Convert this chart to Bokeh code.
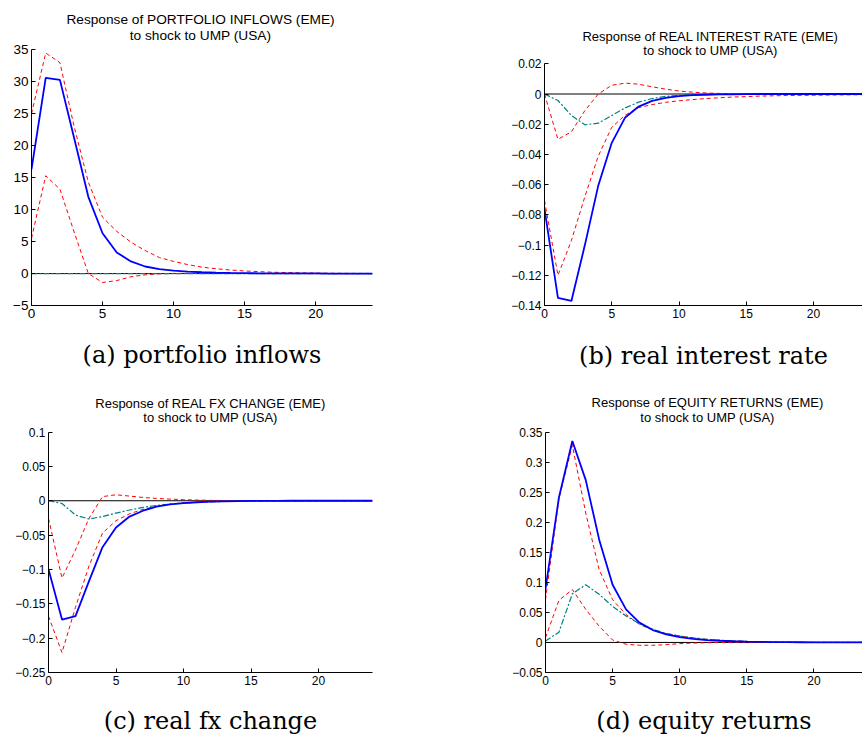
from bokeh.plotting import figure
from bokeh.models import (Range1d, FixedTicker, CustomJSTickFormatter, Span, Label,
                          ColumnDataSource, LinearAxis)
from bokeh.layouts import column, row
from bokeh.embed import file_html
from bokeh.resources import INLINE

# ---------------- data ----------------
horizon = list(range(25))

# (a) portfolio inflows
pi_resp = [16.3, 30.6, 30.3, 21.2, 12.0, 6.3, 3.3, 1.9, 1.1, 0.7, 0.45, 0.3, 0.2, 0.13, 0.09,
           0.06, 0.04, 0.03, 0.02, 0.01, 0.01, 0.0, 0.0, 0.0, 0.0]
pi_upper = [25.0, 34.5, 33.0, 23.0, 14.3, 8.8, 6.6, 4.9, 3.6, 2.5, 1.9, 1.4, 1.0, 0.75, 0.55,
            0.4, 0.3, 0.2, 0.15, 0.1, 0.07, 0.05, 0.03, 0.02, 0.02]
pi_lower = [5.5, 15.3, 13.2, 6.5, 0.0, -1.4, -1.1, -0.5, -0.2, -0.05, 0.02, 0.03, 0.03, 0.02, 0.02,
            0.01, 0.01, 0.0, 0.0, 0.0, 0.0, 0.0, 0.0, 0.0, 0.0]
pi_median = [0.0] * 25

# (b) real interest rate
ri_resp = [-0.076, -0.135, -0.137, -0.100, -0.0605, -0.0323, -0.0155, -0.0083, -0.0045, -0.0025,
           -0.0014, -0.0008, -0.0005, -0.0003, -0.0002, -0.0001, 0.0, 0.0, 0.0, 0.0, 0.0, 0.0, 0.0, 0.0, 0.0]
ri_upper = [0.0, -0.030, -0.025, -0.011, 0.0, 0.0058, 0.0072, 0.0065, 0.0048, 0.0032, 0.002,
            0.0012, 0.0007, 0.0004, 0.0002, 0.0001, 0.0, 0.0, 0.0, 0.0, 0.0, 0.0, 0.0, 0.0, 0.0]
ri_lower = [-0.0705, -0.120, -0.097, -0.068, -0.041, -0.022, -0.014, -0.009, -0.007, -0.0055,
            -0.0045, -0.0037, -0.003, -0.0025, -0.002, -0.0017, -0.0014, -0.0012, -0.001, -0.0009,
            -0.0008, -0.0007, -0.0006, -0.0005, -0.0005]
ri_median = [0.0, -0.0043, -0.0142, -0.0204, -0.0193, -0.0142, -0.0092, -0.0054, -0.003, -0.0016,
             -0.0009, -0.0005, -0.0003, -0.0002, -0.0001, 0.0, 0.0, 0.0, 0.0, 0.0, 0.0, 0.0, 0.0, 0.0, 0.0]

# (c) real fx change
fx_resp = [-0.0995, -0.173, -0.168, -0.117, -0.0676, -0.039, -0.023, -0.0145, -0.0087, -0.0053,
           -0.0034, -0.0022, -0.0014, -0.0009, -0.0005, -0.0003, -0.0002, -0.0001, 0.0, 0.0, 0.0, 0.0, 0.0, 0.0, 0.0]
fx_upper = [-0.0256, -0.1125, -0.0715, -0.0256, 0.006, 0.0087, 0.0068, 0.0048, 0.0034, 0.0024,
            0.0016, 0.001, 0.0006, 0.0003, 0.0002, 0.0001, 0.0, 0.0, 0.0, 0.0, 0.0, 0.0, 0.0, 0.0, 0.0]
fx_lower = [-0.168, -0.221, -0.155, -0.095, -0.047, -0.029, -0.019, -0.0125, -0.008, -0.005,
            -0.003, -0.002, -0.0013, -0.0008, -0.0005, -0.0003, -0.0002, -0.0001, 0.0, 0.0, 0.0, 0.0, 0.0, 0.0, 0.0]
fx_median = [0.0, -0.004, -0.0208, -0.0266, -0.023, -0.018, -0.0135, -0.0097, -0.0068, -0.0048,
             -0.0034, -0.0023, -0.0015, -0.001, -0.0007, -0.0004, -0.0003, -0.0002, -0.0001, 0.0, 0.0, 0.0, 0.0, 0.0, 0.0]

# (d) equity returns
eq_resp = [0.089, 0.241, 0.335, 0.270, 0.171, 0.096, 0.055, 0.033, 0.0206, 0.0135, 0.009, 0.006,
           0.004, 0.0028, 0.002, 0.0013, 0.0009, 0.0006, 0.0004, 0.0003, 0.0002, 0.0001, 0.0001, 0.0, 0.0]
eq_upper = [0.071, 0.239, 0.328, 0.215, 0.121, 0.071, 0.0466, 0.030, 0.0206, 0.0146, 0.0107, 0.0075,
            0.0052, 0.0035, 0.0024, 0.0016, 0.0011, 0.0007, 0.0005, 0.0003, 0.0002, 0.0001, 0.0001, 0.0, 0.0]
eq_lower = [0.008, 0.070, 0.088, 0.055, 0.027, 0.004, -0.003, -0.0047, -0.0047, -0.0037, -0.002, -0.001,
            -0.0005, 0.0, 0.0, 0.0, 0.0, 0.0, 0.0, 0.0, 0.0, 0.0, 0.0, 0.0, 0.0]
eq_median = [0.0025, 0.017, 0.081, 0.096, 0.080, 0.060, 0.044, 0.031, 0.0217, 0.015, 0.0107, 0.0075,
             0.0052, 0.0036, 0.0025, 0.0017, 0.0012, 0.0008, 0.0005, 0.0003, 0.0002, 0.0001, 0.0001, 0.0, 0.0]

x_ticks = [0, 5, 10, 15, 20]
yticks_a = [-5, 0, 5, 10, 15, 20, 25, 30, 35]
yticks_b = [-0.14, -0.12, -0.1, -0.08, -0.06, -0.04, -0.02, 0, 0.02]
yticks_c = [-0.25, -0.2, -0.15, -0.1, -0.05, 0, 0.05, 0.1]
yticks_d = [-0.05, 0, 0.05, 0.1, 0.15, 0.2, 0.25, 0.3, 0.35]

title_lines = [("Response of PORTFOLIO INFLOWS (EME)", "to shock to UMP (USA)"),
               ("Response of REAL INTEREST RATE (EME)", "to shock to UMP (USA)"),
               ("Response of REAL FX CHANGE (EME)", "to shock to UMP (USA)"),
               ("Response of EQUITY RETURNS (EME)", "to shock to UMP (USA)")]
captions = ["(a) portfolio inflows", "(b) real interest rate", "(c) real fx change", "(d) equity returns"]

FMT = CustomJSTickFormatter(code="""
const s = Math.abs(tick).toString();
return tick < 0 ? '\\u2212' + s : s;
""")


def panel(resp, upper, lower, median, ylo, yhi, yticks, title, caption, geom, styles):
    # geom: figure size, borders, x extent, pixel row (from figure top) of the top y tick
    w, h, ml, mr, mt, mb, xend, yhi_px = geom
    tick_fs, title_fs, title_pos, cap_cx, cap_standoff = styles
    fw = w - ml - mr
    scale = (h - mb - yhi_px) / (yhi - ylo)          # px per data unit
    ytop = yhi + (yhi_px - mt) / scale               # frame extends above the axis for the title

    p = figure(width=w, height=h, x_range=Range1d(0, xend), y_range=Range1d(ylo, ytop),
               min_border_left=ml, min_border_right=mr, min_border_top=mt, min_border_bottom=mb,
               output_backend="svg", toolbar_location=None, title=None)
    p.outline_line_color = None
    p.background_fill_color = "white"
    p.border_fill_color = "white"
    p.xgrid.visible = False
    p.ygrid.visible = False
    for ax in (p.xaxis[0], p.yaxis[0]):
        ax.axis_line_color = "black"
        ax.axis_line_width = 1
        ax.major_tick_in = 4
        ax.major_tick_out = 0
        ax.minor_tick_line_color = None
        ax.major_tick_line_color = "black"
        ax.major_label_text_font = "Liberation Sans"
        ax.major_label_text_font_size = tick_fs
        ax.major_label_text_color = "black"
        ax.formatter = FMT
    p.xaxis[0].ticker = FixedTicker(ticks=x_ticks)
    p.yaxis[0].ticker = FixedTicker(ticks=yticks)
    p.yaxis[0].bounds = (ylo, yhi)
    p.xaxis[0].major_label_standoff = 3
    p.yaxis[0].major_label_standoff = 3

    p.add_layout(Span(location=0, dimension="width", line_color="black", line_width=1, level="underlay"))
    src = ColumnDataSource(dict(h=horizon, resp=resp, upper=upper, lower=lower, median=median))
    p.line("h", "upper", source=src, line_color="#ff0000", line_width=1, line_dash="4 3")
    p.line("h", "lower", source=src, line_color="#ff0000", line_width=1, line_dash="4 3")
    p.line("h", "median", source=src, line_color="#008080", line_width=1.2, line_dash="6 2 2 2")
    p.line("h", "resp", source=src, line_color="#0000ff", line_width=1.8)

    def to_data(px, py):
        return (px - ml) / fw * xend, ytop - (py - mt) / scale

    tcx, ty1, ty2 = title_pos
    for txt, ty in zip(title, (ty1, ty2)):
        x, y = to_data(tcx, ty)
        p.add_layout(Label(x=x, y=y, text=txt, text_align="center", text_baseline="middle",
                           text_font="Liberation Sans", text_font_size=title_fs, text_color="black"))

    # caption: an extra, otherwise invisible axis below, whose label is centred on its bounds
    cx = (cap_cx - ml) / fw * xend
    cap = LinearAxis(ticker=FixedTicker(ticks=[]), bounds=(0, 2 * cx),
                     axis_line_color=None, major_tick_line_color=None, minor_tick_line_color=None,
                     major_tick_in=0, major_tick_out=0, major_label_standoff=0,
                     axis_label=caption, axis_label_standoff=cap_standoff,
                     axis_label_text_font="DejaVu Serif", axis_label_text_font_size="24px",
                     axis_label_text_font_style="normal", axis_label_text_color="black",
                     axis_label_text_line_height=1.0)
    p.add_layout(cap, "below")
    return p


pa = panel(pi_resp, pi_upper, pi_lower, pi_median, -5, 35, yticks_a, title_lines[0], captions[0],
           (430, 390, 31, 58, 2, 85, 24, 49.3),
           ("13.5px", "13.7px", (200, 18.5, 34.5), 193.5, 20))
pb = panel(ri_resp, ri_upper, ri_lower, ri_median, -0.14, 0.02, yticks_b, title_lines[1], captions[1],
           (432, 390, 114, 0, 2, 85, 23.64, 63.3),
           ("12px", "13px", (280, 35.5, 49.5), 260.7, 21))
pc = panel(fx_resp, fx_upper, fx_lower, fx_median, -0.25, 0.1, yticks_c, title_lines[2], captions[2],
           (430, 347, 48, 58, 2, 64, 24, 41.7),
           ("12px", "13px", (210, 13.5, 27.5), 193.3, 19))
pd = panel(eq_resp, eq_upper, eq_lower, eq_median, -0.05, 0.35, yticks_d, title_lines[3], captions[3],
           (432, 347, 115, 0, 2, 64, 23.62, 41.7),
           ("12px", "13px", (277, 12.5, 27.5), 260, 19))

layout = column(row(pa, pb, spacing=0), row(pc, pd, spacing=0), spacing=0)
open("out.html", "w").write(file_html(layout, INLINE))
